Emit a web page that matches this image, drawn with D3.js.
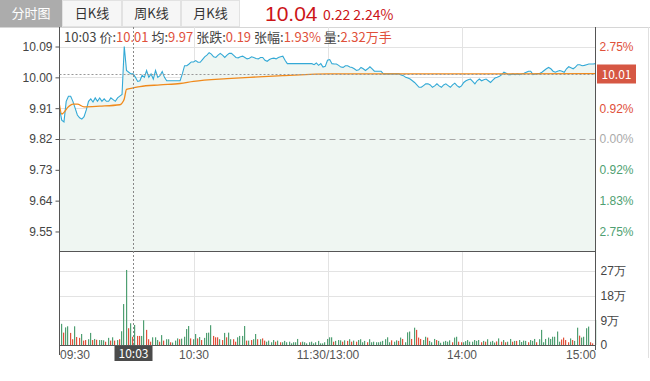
<!DOCTYPE html>
<html>
<head>
<meta charset="utf-8">
<script src="https://cdn.jsdelivr.net/npm/d3@7"></script>
<style>
  body { margin: 0; background: #fff; }
  svg { display: block; font-family: "Noto Sans CJK SC", "Noto Sans", sans-serif; }
</style>
</head>
<body>
<svg id="chart" width="650" height="381"></svg>
<script>
// tabs + quote header
const tabs = ["分时图", "日K线", "周K线", "月K线"];
const lastPrice = "10.04", lastChange = "0.22", lastPct = "2.24%";
const preClose = 9.82;

// price axis
const priceTicks = [10.09, 10.00, 9.91, 9.82, 9.73, 9.64, 9.55];
const pctTicks = [10.09, 9.91, 9.82, 9.73, 9.64, 9.55];
const pctLabels = ["2.75%", "0.92%", "0.00%", "0.92%", "1.83%", "2.75%"];
const volTicks = [0, 9, 18, 27];
const volTickLabels = ["0", "9万", "18万", "27万"];
const timeTicks = [0, 60, 120, 180, 240];
const timeLabels = ["09:30", "10:30", "11:30/13:00", "14:00", "15:00"];

// minute prices, 09:30 .. 15:00 (index = trading minute)
const prices = [
  9.91, 9.875, 9.87, 9.93, 9.945, 9.945, 9.93, 9.91, 9.89, 9.882,
  9.878, 9.885, 9.905, 9.93, 9.937, 9.928, 9.94, 9.93, 9.94, 9.93,
  9.937, 9.93, 9.93, 9.94, 9.935, 9.93, 9.94, 9.945, 9.95, 10.09,
  10.02, 10.015, 10.01, 10.01, 10.0, 9.988, 9.99, 10.006, 10.0, 10.02,
  10.0, 10.01, 9.995, 10.02, 10.0, 10.005, 10.017, 10.0, 9.99, 9.99,
  9.99, 9.99, 9.99, 9.99, 9.99, 10.01, 10.034, 10.034, 10.039, 10.045,
  10.045, 10.049, 10.044, 10.044, 10.052, 10.06, 10.065, 10.072, 10.068, 10.06,
  10.058, 10.065, 10.07, 10.065, 10.058, 10.065, 10.07, 10.07, 10.064, 10.058,
  10.057, 10.06, 10.062, 10.058, 10.054, 10.056, 10.06, 10.058, 10.055, 10.054,
  10.058, 10.058, 10.05, 10.047, 10.052, 10.055, 10.056, 10.054, 10.058, 10.06,
  10.062, 10.05, 10.04, 10.04, 10.04, 10.04, 10.04, 10.04, 10.04, 10.04,
  10.04, 10.04, 10.04, 10.04, 10.037, 10.042, 10.035, 10.04, 10.03, 10.032,
  10.05, 10.052, 10.04, 10.039, 10.039, 10.035, 10.03, 10.029, 10.034, 10.034,
  10.03, 10.029, 10.025, 10.02, 10.022, 10.029, 10.025, 10.02, 10.025, 10.031,
  10.025, 10.018, 10.018, 10.018, 10.018, 10.01, 10.01, 10.01, 10.01, 10.01,
  10.01, 10.01, 10.01, 10.007, 10.005, 10.0, 9.998, 9.995, 9.99, 9.985,
  9.978, 9.971, 9.971, 9.976, 9.981, 9.981, 9.978, 9.971, 9.975, 9.981,
  9.975, 9.971, 9.978, 9.981, 9.976, 9.971, 9.978, 9.983, 9.976, 9.971,
  9.975, 9.985, 9.99, 9.993, 9.995, 9.988, 9.981, 9.99, 9.995, 9.99,
  9.993, 9.995, 9.99, 9.985, 9.992, 9.998, 10.0, 10.003, 10.008, 10.015,
  10.012, 10.008, 10.008, 10.01, 10.008, 10.01, 10.008, 10.01, 10.012, 10.015,
  10.018, 10.018, 10.008, 10.01, 10.011, 10.011, 10.015, 10.02, 10.025, 10.029,
  10.025, 10.018, 10.015, 10.018, 10.02, 10.018, 10.015, 10.025, 10.031, 10.028,
  10.025, 10.03, 10.037, 10.037, 10.034, 10.035, 10.037, 10.039, 10.039, 10.039, 10.04
];

// average price line (minute, price)
const avgMinutes = [0, 1, 4, 6, 8, 11, 18, 27, 28, 29, 30, 33, 36, 45, 54, 60, 75, 85, 100, 110, 120, 170, 240];
const avgPrices = [9.92, 9.893, 9.914, 9.922, 9.922, 9.914, 9.916, 9.92, 9.925, 9.937, 9.965, 9.969, 9.973, 9.978, 9.982, 9.988, 9.996, 10.0, 10.005, 10.008, 10.01, 10.01, 10.011];

// volume (万手), one bar per minute from 09:31; g = green, r = red
const volAM = [
  7.7, 4.5, 6.4, 6.8, 4.4, 2.1, 6.8, 2.9, 2.6, 4.0,
  1.6, 1.8, 2.1, 4.4, 1.8, 2.2, 1.9, 1.8, 1.8, 1.7,
  1.2, 2.6, 1.6, 2.8, 1.6, 1.8, 2.1, 5.0, 14.9, 27.3,
  6.1, 7.9, 3.0, 7.3, 3.3, 3.3, 3.3, 9.0, 5.5, 2.1,
  1.2, 2.8, 2.8, 1.8, 1.2, 3.6, 1.6, 2.1, 2.1, 1.0,
  0.9, 1.6, 2.4, 2.1, 2.3, 3.0, 5.8, 6.9, 2.4, 2.1,
  4.0, 2.4, 2.9, 1.8, 2.6, 4.4, 4.5, 7.2, 3.3, 2.8,
  2.8, 2.1, 1.8, 4.4, 2.8, 4.5, 2.1, 2.1, 1.2, 2.8,
  3.3, 3.3, 6.9, 1.6, 1.6, 1.8, 2.1, 4.0, 2.1, 2.1,
  2.4, 1.6, 1.2, 1.6, 1.0, 1.8, 1.2, 1.6, 1.0, 1.0,
  1.5, 1.0, 1.2, 0.6, 1.0, 1.0, 2.2, 1.0, 1.2, 1.0,
  0.6, 1.0, 1.2, 0.6, 1.0, 1.5, 0.6, 0.6, 1.0, 2.2
];
const dirAM = "grggrrgrrg" + "rrggrgrggg" + "rgrgrgrggg" + "rgrgrrggrr" + "rgggrgrggr" + "gggrggggrg" +
  "grgrggggrr" + "rgrgrggrrg" + "gggrgrggrg" + "rrggggrgrg" + "gggggggrgg" + "gggggggggg";
const volPM = [
  2.8, 2.8, 1.2, 1.5, 1.8, 1.7, 1.2, 1.7, 1.5, 2.1,
  1.2, 1.6, 1.2, 1.8, 2.1, 1.0, 1.5, 1.0, 2.1, 1.0,
  1.2, 1.0, 1.0, 1.2, 1.5, 2.1, 2.8, 1.0, 1.7, 1.2,
  1.7, 1.5, 2.7, 2.2, 1.0, 4.6, 4.9, 2.2, 6.3, 5.5,
  2.7, 2.2, 1.8, 3.0, 2.7, 1.5, 1.0, 2.2, 1.8, 1.5, 0.8, 1.2,
  1.5, 1.2, 1.7, 1.0, 2.7, 3.0, 1.2, 1.0, 1.0, 1.4, 1.8, 1.2,
  1.2, 1.8, 1.5, 1.8, 1.0, 1.5, 1.2, 2.1, 1.2, 1.5, 0.9, 1.3,
  2.4, 1.2, 1.8, 1.0, 1.2, 2.2, 1.2, 1.5, 1.5, 1.8, 1.1, 1.6,
  1.5, 1.0, 1.8, 1.5, 2.2, 1.0, 2.1, 5.5, 1.0, 2.2,
  2.7, 2.2, 3.0, 3.0, 4.9, 1.2, 2.0, 2.7, 1.8, 1.0, 2.4, 1.8, 1.5,
  6.3, 3.4, 2.7, 3.0, 6.1, 6.7, 1.0, 0.6, 9.1
];
const dirPM = "ggrgggrgrg" + "rgrggggrgg" + "ggggggggrg" + "grgrgggrgr" + "rrggrgggrggg" + "gggrggrrgggg" +
  "ggggrgrggggr" + "grgrggrgrggg" + "grgggrgggg" + "ggggggrrrrgrg" + "grggggrrg";

// crosshair
const hoverMinute = 33;
const hoverTime = "10:03";
const hoverInfo = [["10:03 ", null], ["价:", "10.01"], ["均:", "9.97"], ["张跌:", "0.19"], ["张幅:", "1.93%"], ["量:", "2.32万手"]];
const hoverPrice = 10.01;

const RED = "#e0503a", GREEN = "#4f9f72", GRID = "#e3e3e3", AXIS = "#555";

const svg = d3.select("#chart");
const plotL = 59.5, plotR = 595.5, plotT = 27, priceBottom = 251, volBottom = 345;

const x = d3.scaleLinear().domain([0, 240]).range([plotL, plotR]);
const y = d3.scaleLinear().domain([preClose - 0.327, preClose + 0.327]).range([priceBottom, plotT]);
const yv = d3.scaleLinear().domain([0, 34.2]).range([volBottom, priceBottom]);

// ---- header tabs
const tabW = [62, 60, 59, 59];
let tx = 0;
tabs.forEach((t, i) => {
  svg.append("rect").attr("x", tx + 0.5).attr("y", 0.5).attr("width", tabW[i] - 1).attr("height", 26)
    .attr("fill", i === 0 ? "#acacac" : "#f6f6f6").attr("stroke", i === 0 ? "#acacac" : "#e2e2e2");
  svg.append("text").attr("x", tx + tabW[i] / 2).attr("y", 18).attr("text-anchor", "middle")
    .attr("font-size", 13).attr("fill", i === 0 ? "#fff" : "#333").text(t);
  tx += tabW[i];
});
svg.append("text").attr("x", 265).attr("y", 21).attr("font-size", 21)
  .attr("font-family", "'Liberation Sans', Arial, sans-serif").attr("fill", "#cc1518").text(lastPrice);
svg.append("text").attr("x", 323).attr("y", 20).attr("font-size", 14).attr("fill", "#cc1518")
  .text(lastChange + " " + lastPct);

// outer frame
svg.append("line").attr("x1", 0).attr("x2", 650).attr("y1", plotT + 0.5).attr("y2", plotT + 0.5).attr("stroke", "#d6d6d6");
svg.append("line").attr("x1", 648.5).attr("x2", 648.5).attr("y1", plotT).attr("y2", 358).attr("stroke", "#e0e0e0");

// ---- grids
const grid = svg.append("g");
grid.selectAll(".hp").data(priceTicks.filter(d => d !== preClose)).enter().append("line")
  .attr("x1", plotL).attr("x2", plotR)
  .attr("y1", d => Math.round(y(d)) + 0.5).attr("y2", d => Math.round(y(d)) + 0.5)
  .attr("stroke", GRID);
grid.selectAll(".hv").data(volTicks.slice(1)).enter().append("line")
  .attr("x1", plotL).attr("x2", plotR)
  .attr("y1", d => Math.round(yv(d)) + 0.5).attr("y2", d => Math.round(yv(d)) + 0.5)
  .attr("stroke", GRID);
grid.selectAll(".vt").data(timeTicks.slice(1, -1)).enter().append("line")
  .attr("x1", d => Math.round(x(d)) + 0.5).attr("x2", d => Math.round(x(d)) + 0.5)
  .attr("y1", plotT).attr("y2", volBottom).attr("stroke", GRID);

// ---- price area + lines
const priceData = prices.map((p, i) => [i, p]);
svg.append("path").datum(priceData)
  .attr("fill", "#eff6f2")
  .attr("d", d3.area().x(d => x(d[0])).y0(priceBottom).y1(d => y(d[1])));

svg.append("line").attr("x1", plotL).attr("x2", plotR)
  .attr("y1", Math.round(y(preClose)) + 0.5).attr("y2", Math.round(y(preClose)) + 0.5)
  .attr("stroke", "#a8a8a8").attr("stroke-dasharray", "6,4");

svg.append("path").datum(priceData)
  .attr("fill", "none").attr("stroke", "#33a9d6").attr("stroke-width", 1.1)
  .attr("d", d3.line().x(d => x(d[0])).y(d => y(d[1])));

svg.append("path").datum(avgMinutes.map((m, i) => [m, avgPrices[i]]))
  .attr("fill", "none").attr("stroke", "#f08a1c").attr("stroke-width", 1.3)
  .attr("d", d3.line().x(d => x(d[0])).y(d => y(d[1])).curve(d3.curveMonotoneX));

// ---- volume bars
const vols = volAM.map((v, i) => ({ m: i + 1, v: v, up: dirAM[i] === "r" }))
  .concat(volPM.map((v, i) => ({ m: 121 + i, v: v, up: dirPM[i] === "r" })));
svg.append("g").selectAll("rect").data(vols).enter().append("rect")
  .attr("x", d => Math.round(x(d.m)) - 1)
  .attr("width", 1.2)
  .attr("y", d => yv(d.v))
  .attr("height", d => volBottom - yv(d.v))
  .attr("fill", d => d.up ? RED : GREEN);

// ---- axes
const axisL = svg.append("g").attr("transform", `translate(${plotL},0)`)
  .call(d3.axisLeft(y).tickValues(priceTicks).tickFormat(d3.format(".2f")).tickSize(4).tickSizeOuter(0));
axisL.select(".domain").remove();
axisL.selectAll("line").attr("stroke", AXIS);
axisL.selectAll("text").attr("font-size", 12).attr("fill", "#444").attr("font-family", null);

const axisR = svg.append("g").attr("transform", `translate(${plotR},0)`)
  .call(d3.axisRight(y).tickValues(pctTicks).tickFormat((d, i) => pctLabels[i]).tickSize(0).tickPadding(4));
axisR.select(".domain").remove();
axisR.selectAll("text").attr("font-size", 12).attr("font-family", null)
  .attr("fill", d => d > preClose ? RED : d < preClose ? GREEN : "#aaa");

const axisV = svg.append("g").attr("transform", `translate(${plotR},0)`)
  .call(d3.axisRight(yv).tickValues(volTicks).tickFormat((d, i) => volTickLabels[i]).tickSize(0).tickPadding(5));
axisV.select(".domain").remove();
axisV.selectAll("text").attr("font-size", 12).attr("fill", "#444").attr("font-family", null);

const axisB = svg.append("g").attr("transform", `translate(0,${volBottom})`)
  .call(d3.axisBottom(x).tickValues(timeTicks).tickFormat((d, i) => timeLabels[i]).tickSize(0).tickPadding(5));
axisB.select(".domain").remove();
axisB.selectAll("text").attr("font-size", 12).attr("fill", "#555").attr("font-family", null)
  .attr("text-anchor", d => d === 0 ? "start" : d === 240 ? "end" : "middle");

// frame lines
const frame = svg.append("g").attr("stroke", "#555");
frame.append("line").attr("x1", plotL).attr("x2", plotL).attr("y1", plotT).attr("y2", volBottom + 10);
frame.append("line").attr("x1", plotR).attr("x2", plotR).attr("y1", plotT).attr("y2", volBottom + 5);
frame.append("line").attr("x1", plotL).attr("x2", plotR).attr("y1", priceBottom + 0.5).attr("y2", priceBottom + 0.5);
frame.append("line").attr("x1", plotL).attr("x2", plotR).attr("y1", volBottom + 0.5).attr("y2", volBottom + 0.5);

// ---- crosshair
const cx = Math.round(x(hoverMinute)) + 0.5;
const cy = Math.round(y(hoverPrice)) + 0.5;
svg.append("line").attr("x1", cx).attr("x2", cx).attr("y1", plotT).attr("y2", volBottom)
  .attr("stroke", "#888").attr("stroke-dasharray", "2,2");
svg.append("line").attr("x1", plotL).attr("x2", plotR).attr("y1", cy).attr("y2", cy)
  .attr("stroke", "#999").attr("stroke-dasharray", "2,2");

// time badge
svg.append("rect").attr("x", cx - 19).attr("y", volBottom + 1).attr("width", 38).attr("height", 15).attr("fill", "#4b4b4b");
svg.append("text").attr("x", cx).attr("y", volBottom + 13).attr("text-anchor", "middle")
  .attr("font-size", 12).attr("fill", "#fff").text(hoverTime);

// price badge
svg.append("rect").attr("x", plotR + 1.5).attr("y", cy - 10).attr("width", 39).attr("height", 19).attr("fill", "#d65743");
svg.append("text").attr("x", plotR + 21).attr("y", cy + 4.5).attr("text-anchor", "middle")
  .attr("font-size", 12).attr("fill", "#fff").text(hoverPrice.toFixed(2));

// info line
const info = svg.append("text").attr("x", 64).attr("y", 42).attr("font-size", 13);
hoverInfo.forEach(([label, val]) => {
  info.append("tspan").attr("fill", "#444").text(label);
  if (val) info.append("tspan").attr("fill", RED).text(val + " ");
});
</script>
</body>
</html>
